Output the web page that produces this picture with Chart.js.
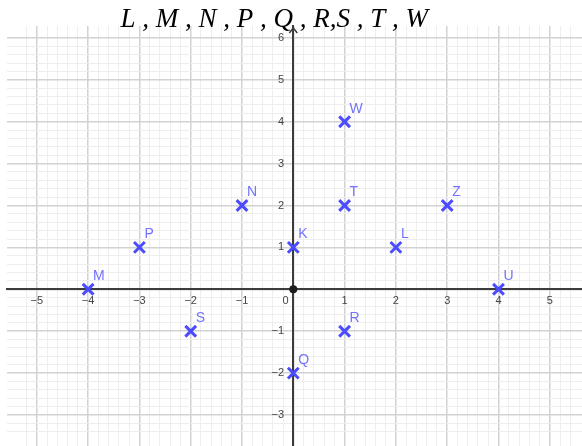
<!DOCTYPE html>
<html>
<head>
<meta charset="utf-8">
<script src="https://cdn.jsdelivr.net/npm/chart.js@4.4.1/dist/chart.umd.min.js"></script>
<style>
  html, body { margin: 0; padding: 0; background: #fff; }
  #wrap { width: 582px; height: 446px; }
</style>
</head>
<body>
<div id="wrap"><canvas id="chart" width="582" height="446"></canvas></div>
<script>
// points
const pointNames = ["M", "P", "S", "N", "K", "Q", "W", "T", "R", "L", "Z", "U"];
const pointX = [-4, -3, -2, -1, 0, 0, 1, 1, 1, 2, 3, 4];
const pointY = [0, 1, -1, 2, 1, -2, 4, 2, -1, 1, 2, 0];
const originX = [0];
const originY = [0];

const titleText = "L , M , N , P , Q , R,S , T , W";
const xTickLabels = [-5, -4, -3, -2, -1, 0, 1, 2, 3, 4, 5];
const yTickLabels = [-3, -2, -1, 1, 2, 3, 4, 5, 6];

const isWhole = v => Math.abs(v - Math.round(v)) < 1e-6;
const isFifth = v => Math.abs(v * 5 - Math.round(v * 5)) < 1e-6;
const fmt = v => v < 0 ? "\u2212" + Math.abs(v) : String(v);

const gridColor = ctx => {
  const v = ctx.tick.value;
  if (isWhole(v)) return "#d2d2d2";
  if (isFifth(v)) return "#eeeeee";
  return "rgba(0,0,0,0)";
};
const gridWidth = ctx => isWhole(ctx.tick.value) ? 1.5 : 1;
const tickFont = { family: "'Liberation Sans', Arial, sans-serif", size: 11 };

// axes sit on the origin, so they must not eat any room in the layout
const noRoom = s => {
  if (s.isHorizontal()) s.height = 0; else s.width = 0;
  s.paddingLeft = s.paddingRight = s.paddingTop = s.paddingBottom = 0;
};

// letters next to each cross + little arrow on the y axis
const pointLabels = {
  id: "pointLabels",
  afterDatasetsDraw(chart) {
    const ctx = chart.ctx;
    const meta = chart.getDatasetMeta(0);
    ctx.save();
    ctx.font = "14px 'Liberation Sans', Arial, sans-serif";
    ctx.fillStyle = "#7272ff";
    ctx.textBaseline = "alphabetic";
    meta.data.forEach((el, i) => ctx.fillText(pointNames[i], el.x + 5, el.y - 9));

    const x0 = chart.scales.x.getPixelForValue(0);
    const top = chart.chartArea.top + 2;
    ctx.strokeStyle = "#3c3c3c";
    ctx.lineWidth = 1.5;
    ctx.beginPath();
    ctx.moveTo(x0 - 4, top + 5);
    ctx.lineTo(x0, top);
    ctx.lineTo(x0 + 4, top + 5);
    ctx.stroke();
    ctx.restore();
  }
};

new Chart(document.getElementById("chart"), {
  type: "scatter",
  data: {
    datasets: [
      {
        data: pointX.map((x, i) => ({ x: x, y: pointY[i] })),
        pointStyle: "crossRot",
        pointRadius: 7.6,
        borderWidth: 3,
        borderColor: "#4b4bff",
        backgroundColor: "#4b4bff"
      },
      {
        data: originX.map((x, i) => ({ x: x, y: originY[i] })),
        pointStyle: "circle",
        pointRadius: 4,
        borderWidth: 0,
        backgroundColor: "#1e1e1e"
      }
    ]
  },
  options: {
    responsive: false,
    animation: false,
    layout: { autoPadding: false, padding: { left: 7, right: 0, top: 0, bottom: 0 } },
    plugins: {
      legend: { display: false },
      tooltip: { enabled: false },
      title: {
        display: true,
        text: titleText + "      ",
        color: "#000",
        font: { family: "'Liberation Serif', 'Times New Roman', serif", size: 27, style: "italic", weight: "normal", lineHeight: 1.2 },
        padding: { top: 4, bottom: -10.4 }
      }
    },
    scales: {
      x: {
        type: "linear",
        position: { y: 0 },
        min: -5.581,
        max: 5.628,
        afterFit: noRoom,
        ticks: {
          stepSize: 0.2,
          maxTicksLimit: 1000,
          autoSkip: false,
          maxRotation: 0,
          padding: 5,
          color: "#444",
          font: tickFont,
          callback: v => {
            if (!isWhole(v)) return "";
            const r = Math.round(v);
            if (!xTickLabels.includes(r)) return "";
            return r === 0 ? "0     " : fmt(r);
          }
        },
        grid: { drawTicks: false, color: gridColor, lineWidth: gridWidth },
        border: { display: true, color: "#3c3c3c", width: 2 }
      },
      y: {
        type: "linear",
        position: { x: 0 },
        min: -3.74,
        max: 6.284,
        afterFit: noRoom,
        ticks: {
          stepSize: 0.2,
          maxTicksLimit: 1000,
          autoSkip: false,
          color: "#444",
          font: tickFont,
          callback: v => {
            if (!isWhole(v)) return "";
            const r = Math.round(v);
            return yTickLabels.includes(r) ? fmt(r) + "   " : "";
          }
        },
        grid: { drawTicks: false, color: gridColor, lineWidth: gridWidth },
        border: { display: true, color: "#3c3c3c", width: 2 }
      }
    }
  },
  plugins: [pointLabels]
});
</script>
</body>
</html>
